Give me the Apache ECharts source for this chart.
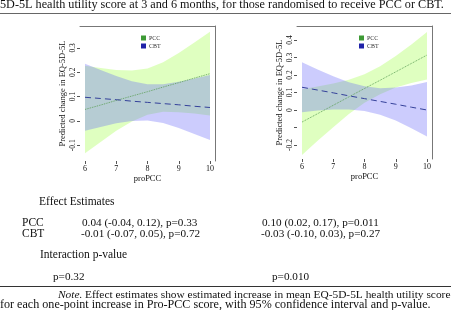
<!DOCTYPE html>
<html>
<head>
<meta charset="utf-8">
<script src="https://cdn.jsdelivr.net/npm/echarts@6/dist/echarts.min.js"></script>
<style>
  html, body { margin: 0; padding: 0; background: #fff; }
  #main { width: 451px; height: 310px; }
</style>
</head>
<body>
<div id="main"></div>
<script>
// proPCC values where the curves were read
const xs = [6, 6.5, 7, 7.5, 8, 8.5, 9, 9.5, 10];
const xTicks = [6, 7, 8, 9, 10];
const yTicks3 = [-0.1, 0, 0.1, 0.2, 0.3];
const yTicks6 = [-0.2, -0.1, 0, 0.1, 0.2, 0.3, 0.4];
const yLabels6 = [-0.2, 0, 0.1, 0.2, 0.3, 0.4];

// 3 months
const pcc3Fit = [0.047, 0.065, 0.084, 0.102, 0.120, 0.139, 0.157, 0.176, 0.194];
const pcc3Upper = [0.227, 0.217, 0.209, 0.207, 0.215, 0.241, 0.279, 0.322, 0.366];
const pcc3Lower = [-0.133, -0.087, -0.041, -0.003, 0.025, 0.037, 0.035, 0.030, 0.022];
const cbt3Fit = [0.097, 0.092, 0.087, 0.081, 0.076, 0.071, 0.066, 0.060, 0.055];
const cbt3Upper = [0.235, 0.209, 0.184, 0.163, 0.151, 0.151, 0.161, 0.174, 0.189];
const cbt3Lower = [-0.041, -0.025, -0.010, -0.001, 0.001, -0.009, -0.029, -0.054, -0.079];

// 6 months
const pcc6Fit = [-0.069, -0.021, 0.027, 0.075, 0.123, 0.170, 0.218, 0.266, 0.314];
const pcc6Upper = [0.119, 0.134, 0.152, 0.173, 0.205, 0.250, 0.308, 0.374, 0.446];
const pcc6Lower = [-0.257, -0.176, -0.098, -0.023, 0.041, 0.090, 0.128, 0.155, 0.175];
const cbt6Fit = [0.130, 0.114, 0.098, 0.081, 0.065, 0.049, 0.033, 0.016, 0.000];
const cbt6Upper = [0.273, 0.231, 0.193, 0.159, 0.136, 0.125, 0.128, 0.140, 0.160];
const cbt6Lower = [-0.013, -0.003, 0.003, 0.003, -0.006, -0.027, -0.060, -0.104, -0.152];

const serif = '"Liberation Serif", "DejaVu Serif", serif';
const txt = "#111";
const pccBand = "rgba(165,255,80,0.36)";
const cbtBand = "rgba(100,100,250,0.33)";

function band(name, gi, lower, upper, color) {
  return {
    type: "custom",
    name: name,
    xAxisIndex: gi,
    yAxisIndex: gi,
    silent: true,
    clip: false,
    data: [[xs[0], lower[0]]],
    renderItem: function (params, api) {
      const top = xs.map((x, i) => api.coord([x, upper[i]]));
      const bot = xs.map((x, i) => api.coord([x, lower[i]])).reverse();
      return {
        type: "polygon",
        shape: { points: top.concat(bot) },
        style: { fill: color },
      };
    },
  };
}

function fitLine(name, gi, fit, color, dash, width) {
  return {
    type: "line",
    name: name,
    xAxisIndex: gi,
    yAxisIndex: gi,
    data: xs.map((x, i) => [x, fit[i]]),
    showSymbol: false,
    silent: true,
    lineStyle: { color: color, type: dash, width: width },
    itemStyle: { color: color },
  };
}

function xAxisFor(gi) {
  return {
    gridIndex: gi,
    type: "value",
    min: 5.84,
    max: 10.16,
    name: "proPCC",
    nameLocation: "middle",
    nameGap: 13,
    nameTextStyle: { fontFamily: serif, fontSize: 8.5, color: txt },
    axisLine: { show: false, onZero: false },
    axisTick: { show: true, length: 3, customValues: xTicks, lineStyle: { color: "#555" } },
    axisLabel: { customValues: xTicks, margin: 4, fontFamily: serif, fontSize: 8, color: txt },
    splitLine: { show: false },
  };
}

function yAxisFor(gi, min, max, ticks, labels, gap) {
  return {
    gridIndex: gi,
    type: "value",
    min: min,
    max: max,
    name: "Predicted change in EQ-5D-5L",
    nameLocation: "middle",
    nameRotate: 90,
    nameGap: gap,
    nameTextStyle: { fontFamily: serif, fontSize: 8.5, color: txt },
    axisLine: { show: false, onZero: false },
    axisTick: { show: true, length: 3, customValues: ticks, lineStyle: { color: "#555" } },
    axisLabel: { customValues: labels, rotate: 90, margin: 3, fontFamily: serif, fontSize: 7.5, color: txt },
    splitLine: { show: false },
  };
}

// top and right edges of the plot box
function frameX(gi) {
  return {
    gridIndex: gi, type: "value", position: "top", min: 5.84, max: 10.16,
    axisLine: { show: true, onZero: false, lineStyle: { color: "#777", width: 1 } },
    axisTick: { show: false }, axisLabel: { show: false }, splitLine: { show: false },
  };
}
function frameY(gi, min, max) {
  return {
    gridIndex: gi, type: "value", position: "right", min: min, max: max,
    axisLine: { show: true, onZero: false, lineStyle: { color: "#777", width: 1 } },
    axisTick: { show: false }, axisLabel: { show: false }, splitLine: { show: false },
  };
}

function legendAt(left) {
  return {
    left: left,
    top: 30,
    orient: "vertical",
    icon: "rect",
    itemWidth: 5,
    itemHeight: 5,
    itemGap: 2,
    selectedMode: false,
    textStyle: { fontFamily: serif, fontSize: 6, color: "#333", padding: [0, 0, 0, -2] },
    data: [
      { name: "PCC", itemStyle: { color: "#3d9a35", borderWidth: 0 } },
      { name: "CBT", itemStyle: { color: "#1f22a8", borderWidth: 0 } },
    ],
  };
}

function label(x, y, text, size, extra) {
  return {
    type: "text",
    x: x,
    y: y,
    silent: true,
    style: Object.assign(
      { text: text, font: size + "px " + serif, fill: txt, verticalAlign: "middle" },
      extra || {}
    ),
  };
}

const chart = echarts.init(document.getElementById("main"), null, { renderer: "canvas" });

chart.setOption({
  animation: false,
  backgroundColor: "#fff",
  grid: [
    { left: 80, right: 236, top: 26, bottom: 149 },
    { left: 297, right: 19, top: 26, bottom: 151 },
  ],
  xAxis: [xAxisFor(0), xAxisFor(1), frameX(0), frameX(1)],
  yAxis: [
    yAxisFor(0, -0.165, 0.39, yTicks3, yTicks3, 13),
    yAxisFor(1, -0.28, 0.48, yTicks6, yLabels6, 13),
    frameY(0, -0.165, 0.39),
    frameY(1, -0.28, 0.48),
  ],
  legend: [legendAt(136), legendAt(354)],
  series: [
    band("PCC band 3", 0, pcc3Lower, pcc3Upper, pccBand),
    band("CBT band 3", 0, cbt3Lower, cbt3Upper, cbtBand),
    fitLine("PCC", 0, pcc3Fit, "#5a9e55", "dotted", 0.9),
    fitLine("CBT", 0, cbt3Fit, "#34419a", [6, 4], 1),
    band("PCC band 6", 1, pcc6Lower, pcc6Upper, pccBand),
    band("CBT band 6", 1, cbt6Lower, cbt6Upper, cbtBand),
    fitLine("PCC", 1, pcc6Fit, "#5a9e55", "dotted", 0.9),
    fitLine("CBT", 1, cbt6Fit, "#34419a", [6, 4], 1),
  ],
  graphic: [
    label(0, 5, "5D-5L health utility score at 3 and 6 months, for those randomised to receive PCC or CBT.", 12.2),
    { type: "line", silent: true, shape: { x1: 0, y1: 13.5, x2: 451, y2: 13.5 }, style: { stroke: "#666", lineWidth: 1 } },
    label(39, 202, "Effect Estimates", 11.5),
    label(22, 223, "PCC", 11.5),
    label(82, 223, "0.04 (-0.04, 0.12), p=0.33", 11.2),
    label(262, 223, "0.10 (0.02, 0.17), p=0.011", 11.2),
    label(22, 234, "CBT", 11.5),
    label(81, 234, "-0.01 (-0.07, 0.05), p=0.72", 11.2),
    label(261, 234, "-0.03 (-0.10, 0.03), p=0.27", 11.2),
    label(40, 255, "Interaction p-value", 11.5),
    label(53, 277, "p=0.32", 11.2),
    label(272, 277, "p=0.010", 11.2),
    { type: "line", silent: true, shape: { x1: 0, y1: 286.5, x2: 451, y2: 286.5 }, style: { stroke: "#333", lineWidth: 1 } },
    label(58, 295, "Note.", 11.4, { font: "italic 11.4px " + serif }),
    label(85, 295, "Effect estimates show estimated increase in mean EQ-5D-5L health utility score", 11.4),
    label(0, 305, "for each one-point increase in Pro-PCC score, with 95% confidence interval and p-value.", 12.1),
  ],
});

window.addEventListener("resize", () => {
  chart.resize();
});
</script>
</body>
</html>
